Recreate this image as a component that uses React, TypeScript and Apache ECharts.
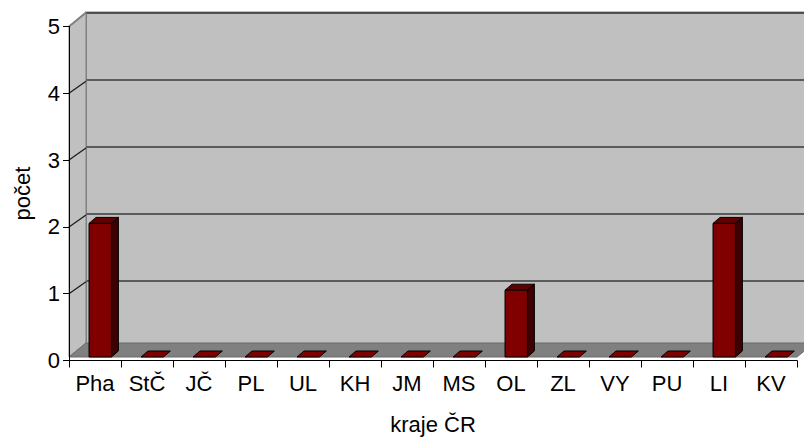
import React, { useEffect, useRef } from "react";
import * as echarts from "echarts";

// Regions of the Czech Republic and counts per region
const categories = ["Pha", "StČ", "JČ", "PL", "UL", "KH", "JM", "MS", "OL", "ZL", "VY", "PU", "LI", "KV"];
const counts = [2, 0, 0, 0, 0, 0, 0, 0, 1, 0, 0, 0, 2, 0];
const yTicks = [0, 1, 2, 3, 4, 5];

const FONT = "'Liberation Sans', Arial, sans-serif";
// pseudo-3D offsets
const WALL_DX = 17;
const WALL_DY = -14;
const BAR_DX = 7;
const BAR_DY = -6;
const LIFT = 3.5;

export default function App() {
  const ref = useRef<HTMLDivElement>(null);

  useEffect(() => {
    if (!ref.current) return;
    const chart = echarts.init(ref.current, null, { renderer: "svg" });

    const option: any = {
      animation: false,
      backgroundColor: "#ffffff",
      textStyle: { fontFamily: FONT },
      grid: [
        // front plane: axes, labels, marks
        { left: 69, right: 7, top: 26.5, bottom: 76.5, outerBoundsMode: "none", containLabel: false },
        // back wall with its gridlines
        {
          left: 69 + WALL_DX,
          right: 7 - WALL_DX,
          top: 26.5 + WALL_DY,
          bottom: 89.5,
          outerBoundsMode: "none",
          containLabel: false,
          show: true,
          backgroundColor: "#c0c0c0",
          borderColor: "#808080",
          borderWidth: 2,
          z: 0,
        },
      ],
      xAxis: [
        {
          type: "category",
          gridIndex: 0,
          data: categories,
          z: 5,
          axisLine: { show: true, lineStyle: { color: "#000", width: 1 } },
          axisTick: { show: true, length: 7, lineStyle: { color: "#000" } },
          axisLabel: { color: "#000", fontSize: 22, fontFamily: FONT, margin: 12, interval: 0 },
          name: "kraje ČR",
          nameLocation: "middle",
          nameGap: 53,
          nameTextStyle: { color: "#000", fontSize: 22, fontFamily: FONT },
          splitLine: { show: false },
        },
        {
          type: "value",
          gridIndex: 1,
          min: 0,
          max: 1,
          show: false,
        },
      ],
      yAxis: [
        {
          type: "value",
          gridIndex: 0,
          min: 0,
          max: 5,
          interval: 1,
          z: 5,
          axisLine: { show: true, lineStyle: { color: "#000", width: 1 } },
          axisTick: { show: true, length: 6, lineStyle: { color: "#000" } },
          axisLabel: { color: "#000", fontSize: 22, fontFamily: FONT, margin: 9 },
          name: "počet",
          nameLocation: "middle",
          nameGap: 36,
          nameTextStyle: { color: "#000", fontSize: 22, fontFamily: FONT },
          splitLine: { show: false },
        },
        {
          type: "value",
          gridIndex: 1,
          min: 0,
          max: 5,
          interval: 1,
          axisLine: { show: false },
          axisTick: { show: false },
          axisLabel: { show: false },
          splitLine: { show: true, lineStyle: { color: "#3a3a3a", width: 1.5 } },
        },
      ],
      series: [
        {
          // floor, side wall and the slanted tick lines on it
          type: "custom",
          xAxisIndex: 0,
          yAxisIndex: 0,
          data: yTicks.map((v) => [0, v]),
          z: 1,
          silent: true,
          renderItem: (params: any, api: any) => {
            const cs = params.coordSys;
            const x0 = cs.x;
            const x1 = cs.x + cs.width;
            const yb = cs.y + cs.height - LIFT;
            const v = api.value(1);
            const p = api.coord([0, v]);
            const y = v === 0 ? yb : p[1];
            const children: any[] = [];
            if (v === 0) {
              children.push({
                type: "polygon",
                shape: {
                  points: [
                    [x0, cs.y],
                    [x0 + WALL_DX, cs.y + WALL_DY],
                    [x0 + WALL_DX, yb + WALL_DY],
                    [x0, yb],
                  ],
                },
                style: { fill: "#c0c0c0", stroke: "#808080", lineWidth: 1 },
              });
              children.push({
                type: "polygon",
                shape: {
                  points: [
                    [x0, yb],
                    [x1, yb],
                    [x1 + WALL_DX, yb + WALL_DY],
                    [x0 + WALL_DX, yb + WALL_DY],
                  ],
                },
                style: { fill: "#808080", stroke: "#6a6a6a", lineWidth: 1 },
              });
            } else {
              const top = v === 5;
              children.push({
                type: "line",
                shape: { x1: x0, y1: y, x2: x0 + WALL_DX, y2: y + WALL_DY + (top ? 0 : 2) },
                style: { stroke: top ? "#808080" : "#1a1a1a", lineWidth: top ? 2 : 1.2 },
              });
            }
            return { type: "group", children };
          },
        },
        {
          // columns
          type: "custom",
          xAxisIndex: 0,
          yAxisIndex: 0,
          data: counts.map((v, i) => [i, v]),
          encode: { x: 0, y: 1 },
          z: 3,
          renderItem: (params: any, api: any) => {
            const i = api.value(0);
            const v = api.value(1);
            const base = api.coord([i, 0]);
            const top = api.coord([i, v]);
            const band = api.size([1, 0])[0];
            const left = base[0] - band / 2 + band * 0.385;
            const w = band * 0.43;
            const yb = base[1] - LIFT;
            const yt = top[1] - LIFT;
            const edge = { stroke: "#000", lineWidth: 1, lineJoin: "round" };
            if (v === 0) {
              return {
                type: "polygon",
                shape: {
                  points: [
                    [left, yb],
                    [left + w, yb],
                    [left + w + BAR_DX, yb + BAR_DY],
                    [left + BAR_DX, yb + BAR_DY],
                  ],
                },
                style: { fill: "#800000", ...edge },
              };
            }
            return {
              type: "group",
              children: [
                {
                  type: "polygon",
                  shape: {
                    points: [
                      [left + w, yt],
                      [left + w + BAR_DX, yt + BAR_DY],
                      [left + w + BAR_DX, yb + BAR_DY],
                      [left + w, yb],
                    ],
                  },
                  style: { fill: "#3d0000", ...edge },
                },
                {
                  type: "polygon",
                  shape: {
                    points: [
                      [left, yt],
                      [left + BAR_DX, yt + BAR_DY],
                      [left + w + BAR_DX, yt + BAR_DY],
                      [left + w, yt],
                    ],
                  },
                  style: { fill: "#600000", ...edge },
                },
                {
                  type: "rect",
                  shape: { x: left, y: yt, width: w, height: yb - yt },
                  style: { fill: "#800000", ...edge },
                },
              ],
            };
          },
        },
      ],
    };

    chart.setOption(option);
    return () => chart.dispose();
  }, []);

  return (
    <div
      ref={ref}
      style={{ position: "fixed", left: 0, top: 0, width: 804, height: 437 }}
    />
  );
}
